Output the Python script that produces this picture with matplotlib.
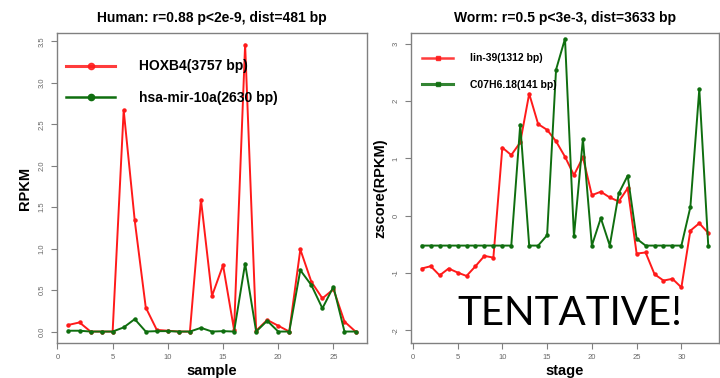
import matplotlib
matplotlib.use("Agg")
import matplotlib.pyplot as plt
from matplotlib.lines import Line2D

plt.rcParams['font.family'] = ['Liberation Sans', 'DejaVu Sans']

# Human panel data
human_samples = list(range(1, 28))
hoxb4 = [0.08, 0.11, 0.0, 0.0, 0.0, 2.67, 1.34, 0.29, 0.02, 0.01, 0.0, 0.0, 1.59,
         0.43, 0.80, 0.02, 3.46, 0.01, 0.14, 0.07, 0.0, 0.99, 0.60, 0.40, 0.51, 0.12, 0.0]
mir10a = [0.01, 0.01, 0.0, 0.0, 0.0, 0.05, 0.15, 0.0, 0.005, 0.005, 0.0, 0.0, 0.045,
          0.0, 0.005, 0.0, 0.82, 0.0, 0.13, 0.0, 0.0, 0.74, 0.56, 0.28, 0.54, 0.0, 0.0]

# Worm panel data
worm_stages = list(range(1, 34))
lin39 = [-0.92, -0.88, -1.04, -0.92, -0.99, -1.05, -0.88, -0.70, -0.73, 1.19, 1.06,
         1.28, 2.13, 1.60, 1.50, 1.30, 1.03, 0.71, 1.02, 0.36, 0.42, 0.32, 0.25, 0.48,
         -0.66, -0.64, -1.02, -1.13, -1.10, -1.25, -0.26, -0.13, -0.30]
c07h6 = [-0.52, -0.52, -0.52, -0.52, -0.52, -0.52, -0.52, -0.52, -0.52, -0.52, -0.52,
         1.59, -0.52, -0.52, -0.34, 2.55, 3.09, -0.36, 1.34, -0.52, -0.04, -0.52, 0.39,
         0.70, -0.40, -0.52, -0.52, -0.52, -0.52, -0.52, 0.15, 2.21, -0.52]

human_title = "Human: r=0.88 p<2e-9, dist=481 bp"
worm_title = "Worm: r=0.5 p<3e-3, dist=3633 bp"
human_labels = ["HOXB4(3757 bp)", "hsa-mir-10a(2630 bp)"]
worm_labels = ["lin-39(1312 bp)", "C07H6.18(141 bp)"]
human_xticks = [0, 5, 10, 15, 20, 25]
human_yticks = [0.0, 0.5, 1.0, 1.5, 2.0, 2.5, 3.0, 3.5]
worm_xticks = [0, 5, 10, 15, 20, 25, 30]
worm_yticks = [-2, -1, 0, 1, 2, 3]

RED = '#ff1a1a'
GREEN = '#0f6e0f'
GRAY = '#808080'

fig = plt.figure(figsize=(7.2, 3.78), dpi=100)
axL = fig.add_axes([57/720, 35/378, 310/720, 310/378])
axR = fig.add_axes([411/720, 35/378, 308/720, 310/378])


def style(ax, xticks, yticks, yfmt):
    for s in ax.spines.values():
        s.set_color(GRAY)
        s.set_linewidth(1.0)
    ax.set_xticks(xticks)
    ax.set_yticks(yticks)
    ax.set_xticklabels([str(t) for t in xticks])
    ax.set_yticklabels([yfmt(t) for t in yticks], rotation=90, va='center')
    ax.tick_params(axis='both', colors=GRAY, labelcolor='#666666', labelsize=5.5,
                   length=4, width=0.8, direction='out', pad=4)


def draw(ax, x, a, b):
    ax.plot(x, a, color=RED, lw=1.4, marker='o', ms=2.2, zorder=3)
    ax.plot(x, b, color=GREEN, lw=1.4, marker='o', ms=2.2, zorder=3)


draw(axL, human_samples, hoxb4, mir10a)
axL.set_xlim(-0.04, 28.04)
axL.set_ylim(-0.138, 3.6)
style(axL, human_xticks, human_yticks, lambda v: f"{v:.1f}")
axL.set_title(human_title, fontsize=10, fontweight='bold', pad=8)
axL.set_xlabel("sample", fontsize=10.5, fontweight='bold', labelpad=2)
axL.set_ylabel("RPKM", fontsize=10.5, fontweight='bold', labelpad=5)
hl = [Line2D([], [], color=RED, lw=2.2, alpha=0.85, marker='o', ms=4.5),
      Line2D([], [], color=GREEN, lw=1.8, marker='o', ms=4.5)]
axL.legend(hl, human_labels, loc='upper left', bbox_to_anchor=(-0.01, 0.955),
           frameon=False, handlelength=3.5, handletextpad=1.7, labelspacing=1.25,
           prop={'weight': 'bold', 'size': 10})

draw(axR, worm_stages, lin39, c07h6)
axR.set_xlim(-0.2, 34.2)
axR.set_ylim(-2.22, 3.19)
style(axR, worm_xticks, worm_yticks, lambda v: f"{v:d}")
axR.set_title(worm_title, fontsize=10, fontweight='bold', pad=8)
axR.set_xlabel("stage", fontsize=10.5, fontweight='bold', labelpad=2)
axR.set_ylabel("zscore(RPKM)", fontsize=10.5, fontweight='bold', labelpad=4)
wl = [Line2D([], [], color=RED, lw=1.8, alpha=0.85, marker='s', ms=3),
      Line2D([], [], color=GREEN, lw=2.2, alpha=0.85, marker='s', ms=3)]
axR.legend(wl, worm_labels, loc='upper left', bbox_to_anchor=(0.005, 0.965),
           frameon=False, handlelength=3.0, handletextpad=1.6, labelspacing=1.6,
           prop={'weight': 'bold', 'size': 7.5})

axR.text(0.515, 0.094, "TENTATIVE!", transform=axR.transAxes, fontsize=29,
         family=['Lato', 'DejaVu Sans'], color='black', ha='center', va='center')

fig.savefig("out.png", dpi=100)
